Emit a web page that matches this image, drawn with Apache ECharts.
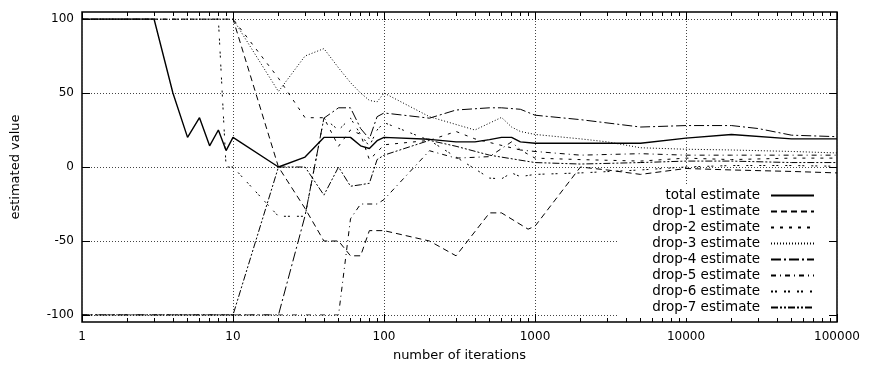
<!DOCTYPE html>
<html>
<head>
<meta charset="utf-8">
<script src="https://cdn.jsdelivr.net/npm/echarts@6/dist/echarts.min.js"></script>
<style>
html,body{margin:0;padding:0;background:#fff;}
#chart{width:869px;height:372px;}
</style>
</head>
<body>
<div id="chart"></div>
<script>
// ---- data (x = iteration, y = estimated value) ----
var seriesNames = ['total estimate','drop-1 estimate','drop-2 estimate','drop-3 estimate','drop-4 estimate','drop-5 estimate','drop-6 estimate','drop-7 estimate'];

var totalEstimate = [[1,100],[2,100],[3,100],[4,50],[5,20],[6,33.3],[7,14.3],[8,25],[9,11.1],[10,20],[20,0],[30,6.7],[40,20],[50,20],[60,20],[70,14.3],[80,12.5],[90,17.8],[100,20],[200,18.7],[300,17],[400,17],[500,18.5],[600,20],[700,20],[800,17],[1000,16],[2000,16],[5000,16],[10000,19.5],[20000,22],[50000,19],[100000,19]];

var drop1 = [[1,100],[10,100],[20,0],[30,-28],[40,-50],[50,-50],[60,-60],[70,-60],[80,-43],[100,-43],[200,-50],[300,-60],[500,-31],[600,-31],[900,-42],[1000,-40],[2000,0],[3000,-2],[5000,-5],[10000,-1],[20000,-2],[50000,-3],[100000,-4]];

var drop2 = [[1,100],[10,100],[20,60],[30,33.3],[40,33.3],[50,14],[60,25],[70,22],[80,5],[90,10],[100,15],[200,18],[300,24],[400,19],[800,11.5],[1000,6],[2000,5],[5000,4],[10000,6],[20000,5],[50000,6],[100000,6]];

var drop3 = [[1,100],[10,100],[20,51],[30,75],[40,80],[50,67],[60,57],[70,50],[80,45],[90,44],[100,50],[200,34],[400,25],[600,33.5],[700,27],[800,24],[1000,22],[2000,19],[3000,17],[5000,13],[10000,12],[20000,11.5],[50000,10.5],[100000,9.5]];

var drop4 = [[1,-100],[20,-100],[30,-33],[40,33],[50,40],[60,40],[70,26],[80,19],[90,34],[100,36.5],[200,33],[300,38.5],[500,40],[600,40],[800,39],[1000,35],[2000,32],[5000,27],[10000,28],[20000,28],[30000,26],[50000,21.5],[100000,20.5]];

var drop5 = [[1,-100],[50,-100],[60,-35],[70,-25],[90,-25],[100,-22],[200,11],[300,6],[500,7],[700,17],[800,11.5],[1000,10.5],[2000,8],[5000,9],[10000,8],[20000,8],[50000,8],[100000,8]];

var drop6 = [[1,100],[8,100],[9,0],[10,0],[20,-33.3],[30,-33.3],[40,33],[50,25],[60,33],[70,22],[80,14],[90,25],[100,30],[200,18],[500,-7.5],[600,-8],[700,-4],[800,-6.5],[1000,-5],[2000,-4],[5000,-2],[10000,0],[20000,1],[50000,1],[100000,0.5]];

var drop7 = [[1,-100],[10,-100],[20,0],[30,0],[40,-19],[50,0],[60,-13],[70,-12],[80,-11],[90,5],[100,8],[200,18],[300,14],[500,8],[1000,3],[2000,2],[5000,3],[10000,4],[20000,4],[50000,3],[100000,3]];

var yTicks = [-100, -50, 0, 50, 100];
var xMinorTicks = [2,3,4,5,6,7,8,9,20,30,40,50,60,70,80,90,200,300,400,500,600,700,800,900,2000,3000,4000,5000,6000,7000,8000,9000,20000,30000,40000,50000,60000,70000,80000,90000];

// ---- chart ----
var FONT = 'DejaVu Sans';
var allData = [totalEstimate, drop1, drop2, drop3, drop4, drop5, drop6, drop7];
var dashes = ['solid', [6,4], [3,6], [1,2], [10,3,2,3], [5,4,1,4], [2,2,2,7], [7,2,2,2,2,2]];
var widths = [1.4, 1, 1, 1, 1, 1, 1, 1];

var series = allData.map(function (d, i) {
  return {
    name: seriesNames[i],
    type: 'line',
    xAxisIndex: 0,
    yAxisIndex: 0,
    data: d,
    symbol: 'none',
    showSymbol: false,
    animation: false,
    lineStyle: { color: '#000', width: widths[i], type: dashes[i] },
    itemStyle: { color: '#000' },
    z: 2
  };
});

var legendRowCenters = [195, 211, 227, 243, 259, 275, 291, 307];
var legends = seriesNames.map(function (n, i) {
  return {
    data: [n],
    orient: 'vertical',
    align: 'right',
    right: 54,
    top: legendRowCenters[i] - 6.5,
    padding: 0,
    itemWidth: 43,
    itemHeight: 13,
    selectedMode: false,
    z: 5,
    itemStyle: { color: 'rgba(0,0,0,0)', borderColor: 'rgba(0,0,0,0)', borderWidth: 0, opacity: 0 },
    textStyle: { fontFamily: FONT, fontSize: 13.5, color: '#000', lineHeight: 13, padding: [0, 6, 0, 0] }
  };
});

var gridLine = { show: true, lineStyle: { color: '#444', width: 1, type: [1, 2] } };
var minorTickPos = xMinorTicks.map(function (v) { return Math.log10(v); });
var noLine = { show: false, onZero: false };

var option = {
  backgroundColor: '#fff',
  animation: false,
  textStyle: { fontFamily: FONT },
  grid: [
    { left: 82, right: 32, top: 19, bottom: 57, show: false },
    { left: 82, right: 32, top: 12, bottom: 50, show: true, borderColor: '#000', borderWidth: 1.5, backgroundColor: 'transparent' }
  ],
  xAxis: [
    { gridIndex: 0, type: 'log', logBase: 10, min: 1, max: 100000, show: false, axisLine: noLine },
    {
      gridIndex: 1, type: 'log', logBase: 10, min: 1, max: 100000, splitNumber: 5, position: 'bottom',
      axisLine: noLine,
      axisTick: { show: true, inside: true, length: 8, lineStyle: { color: '#000', width: 1 } },
      axisLabel: { show: true, fontFamily: FONT, fontSize: 12, color: '#000', margin: 9,
        formatter: function (v) { return String(Math.round(v)); } },
      splitLine: gridLine,
      name: 'number of iterations', nameLocation: 'middle', nameGap: 27,
      nameTextStyle: { fontFamily: FONT, fontSize: 13, color: '#000' }
    },
    {
      gridIndex: 1, type: 'log', logBase: 10, min: 1, max: 100000, splitNumber: 5, position: 'top',
      axisLine: noLine,
      axisTick: { show: true, inside: true, length: 8, lineStyle: { color: '#000', width: 1 } },
      axisLabel: { show: false }, splitLine: { show: false }
    },
    {
      gridIndex: 1, type: 'value', min: 0, max: 5, position: 'bottom',
      axisLine: noLine,
      axisTick: { show: true, inside: true, length: 4, customValues: minorTickPos, lineStyle: { color: '#000', width: 1 } },
      axisLabel: { show: false, customValues: minorTickPos }, splitLine: { show: false }
    },
    {
      gridIndex: 1, type: 'value', min: 0, max: 5, position: 'top',
      axisLine: noLine,
      axisTick: { show: true, inside: true, length: 4, customValues: minorTickPos, lineStyle: { color: '#000', width: 1 } },
      axisLabel: { show: false, customValues: minorTickPos }, splitLine: { show: false }
    }
  ],
  yAxis: [
    {
      gridIndex: 0, type: 'value', min: yTicks[0], max: yTicks[yTicks.length - 1], interval: 50, position: 'left',
      axisLine: noLine,
      axisTick: { show: true, inside: true, length: 8, lineStyle: { color: '#000', width: 1 } },
      axisLabel: { fontFamily: FONT, fontSize: 12, color: '#000', margin: 8 },
      splitLine: gridLine,
      name: 'estimated value', nameLocation: 'middle', nameGap: 60, nameRotate: 90,
      nameTextStyle: { fontFamily: FONT, fontSize: 13, color: '#000' }
    },
    {
      gridIndex: 0, type: 'value', min: yTicks[0], max: yTicks[yTicks.length - 1], interval: 50, position: 'right',
      axisLine: noLine,
      axisTick: { show: true, inside: true, length: 8, lineStyle: { color: '#000', width: 1 } },
      axisLabel: { show: false }, splitLine: { show: false }
    },
    { gridIndex: 1, type: 'value', min: 0, max: 1, show: false, axisLine: noLine }
  ],
  legend: legends,
  graphic: {
    elements: [
      { type: 'rect', left: 617, top: 185, z: 3, shape: { width: 211, height: 133 }, style: { fill: '#fff' } }
    ]
  },
  series: series
};

var chart = echarts.init(document.getElementById('chart'), null, { renderer: 'canvas' });
chart.setOption(option);
</script>
</body>
</html>
